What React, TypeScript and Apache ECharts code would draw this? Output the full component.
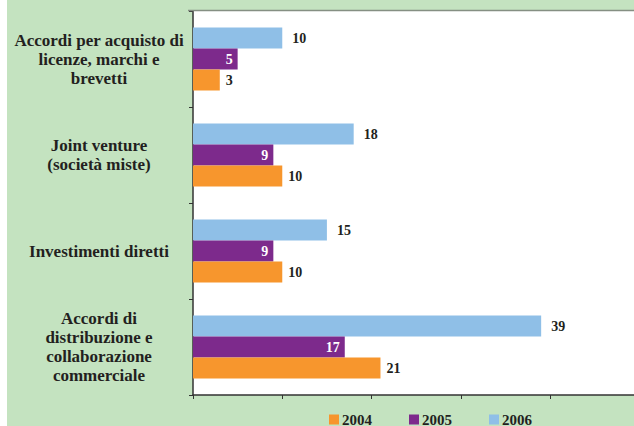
import React, { useEffect, useRef } from "react";
import * as echarts from "echarts";

const categories = [
  "Accordi per acquisto di\nlicenze, marchi e\nbrevetti",
  "Joint venture\n(società miste)",
  "Investimenti diretti",
  "Accordi di\ndistribuzione e\ncollaborazione\ncommerciale",
];
const seriesNames = ["2004", "2005", "2006"];
const values2004 = [3, 10, 10, 21];
const values2005 = [5, 9, 9, 17];
const values2006 = [10, 18, 15, 39];
const axisMax = 49.4;

const FONT = "'Liberation Serif', 'Times New Roman', serif";
const TEXT = "#231f20";
const COLORS: Record<string, string> = { "2004": "#f7962d", "2005": "#7d2a8c", "2006": "#8fbfe7" };

export default function App() {
  const ref = useRef<HTMLDivElement>(null);
  useEffect(() => {
    document.body.style.margin = "0";
    const chart = echarts.init(ref.current!, null, { renderer: "svg" });
    const dataMap: Record<string, number[]> = { "2004": values2004, "2005": values2005, "2006": values2006 };
    const order = ["2006", "2005", "2004"];
    chart.setOption({
      animation: false,
      graphic: [
        { type: "rect", z: -10, silent: true, shape: { x: 7, y: 0, width: 627, height: 426 }, style: { fill: "#c4e3c0" } },
        { type: "line", z: 100, silent: true, shape: { x1: 188, y1: 10.5, x2: 634, y2: 10.5 }, style: { stroke: "#858f83", lineWidth: 1.5 } },
      ],
      legend: {
        data: seriesNames,
        left: 324,
        top: 407,
        padding: 5,
        itemWidth: 10,
        itemHeight: 10,
        itemGap: 37,
        icon: "rect",
        textStyle: { fontFamily: FONT, fontWeight: "bold", fontSize: 15, lineHeight: 15, color: TEXT, padding: [0, 0, 0, -2] },
      },
      grid: { left: 193, top: 11, bottom: 31, right: 0, show: true, backgroundColor: "#ffffff", borderWidth: 0 },
      xAxis: {
        type: "value",
        min: 0,
        max: axisMax,
        interval: 10,
        axisLine: { show: true, lineStyle: { color: "#333333", width: 1.5 } },
        axisTick: { show: true, length: 4, lineStyle: { color: "#333333", width: 1 } },
        axisLabel: { show: false },
        splitLine: { show: false },
      },
      yAxis: {
        type: "category",
        inverse: true,
        data: categories,
        axisLine: { show: true, lineStyle: { color: "#333333", width: 1.5 } },
        axisTick: { show: true, length: 4, lineStyle: { color: "#333333", width: 1 } },
        axisLabel: {
          align: "center",
          margin: 94,
          fontFamily: FONT,
          fontWeight: "bold",
          fontSize: 17,
          lineHeight: 19,
          color: TEXT,
        },
      },
      series: order.map((name) => ({
        name,
        type: "bar",
        data: dataMap[name],
        barWidth: 21,
        barGap: "0%",
        itemStyle: { color: COLORS[name] },
        label: {
          show: true,
          position: name === "2005" ? "insideRight" : "right",
          distance: name === "2005" ? 5 : name === "2006" ? 10 : 6,
          color: name === "2005" ? "#ffffff" : TEXT,
          fontFamily: FONT,
          fontWeight: "bold",
          fontSize: 14,
        },
      })),
    });
    return () => chart.dispose();
  }, []);
  return <div ref={ref} style={{ width: 634, height: 426 }} />;
}
